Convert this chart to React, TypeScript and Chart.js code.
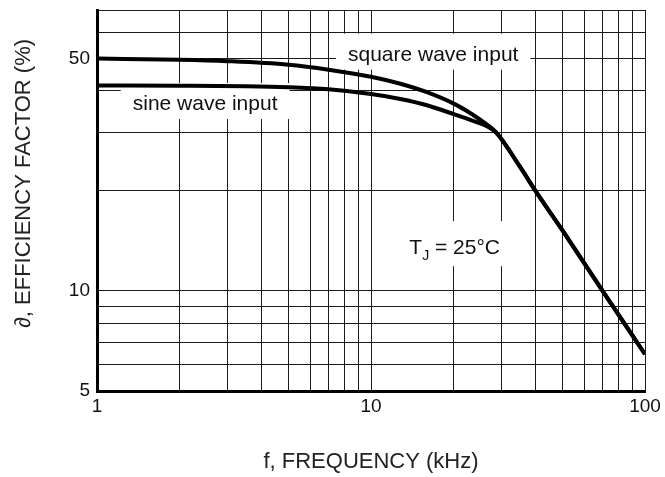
import React, { useEffect, useRef } from 'react';
import { Chart, registerables } from 'chart.js';

Chart.register(...registerables);

// ---- data ----
const squareFreq = [1, 2, 3, 5, 7, 10, 12.8, 16, 20.3, 23, 25.6, 28.8, 35, 40, 50, 70, 100];
const squareEff = [50, 49.6, 49.1, 47.9, 46.3, 44.1, 42.0, 39.6, 36.4, 34.3, 32.3, 29.8, 23.6, 19.9, 15.2, 10.0, 6.45];

const sineFreq = [1, 2, 3.5, 5, 7, 10, 12.8, 16, 20.3, 24, 27.2, 28.8, 35, 40, 50, 70, 100];
const sineEff = [41.5, 41.45, 41.3, 41.0, 40.4, 39.1, 37.8, 36.2, 33.9, 32.3, 30.9, 29.8, 23.6, 19.9, 15.2, 10.0, 6.45];

const xGridValues = [1, 2, 3, 4, 5, 6, 7, 8, 9, 10, 20, 30, 40, 50, 60, 70, 80, 90, 100];
const yGridValues = [5, 6, 7, 8, 9, 10, 20, 30, 40, 50, 60, 70];
const xTickLabels = [1, 10, 100];
const yTickLabels = [5, 10, 50];

const xTitle = 'f, FREQUENCY (kHz)';
const yTitle = '\u2202, EFFICIENCY FACTOR (%)';

// annotation anchors in data units (kHz, %)
const squareLabel = { text: 'square wave input', x: 8.24, y: 49.3 };
const sineLabel = { text: 'sine wave input', x: 1.35, y: 35.0 };
const tempLabel = { main: 'T', sub: 'J', rest: ' = 25\u00B0C', x: 13.8, y: 12.9 };

const FONT = '"Liberation Sans", Arial, Helvetica, sans-serif';

const annotationPlugin = {
  id: 'annotations',
  beforeDatasetsDraw(chart: any) {
    const ctx = chart.ctx;
    const xs = chart.scales.x;
    const ys = chart.scales.y;
    ctx.save();
    ctx.fillStyle = '#ffffff';
    ctx.font = `21px ${FONT}`;
    for (const l of [squareLabel, sineLabel]) {
      const px = xs.getPixelForValue(l.x);
      const py = ys.getPixelForValue(l.y);
      const w = ctx.measureText(l.text).width;
      ctx.fillRect(px - 12, py - 27, w + 24, 36);
    }
    {
      const px = xs.getPixelForValue(tempLabel.x);
      const py = ys.getPixelForValue(tempLabel.y);
      ctx.fillRect(px - 9, py - 33, 112, 45);
    }
    ctx.restore();
  },
  afterDatasetsDraw(chart: any) {
    const ctx = chart.ctx;
    const xs = chart.scales.x;
    const ys = chart.scales.y;
    ctx.save();
    ctx.fillStyle = '#111111';
    ctx.textBaseline = 'alphabetic';
    ctx.textAlign = 'left';
    ctx.font = `21px ${FONT}`;
    for (const l of [squareLabel, sineLabel]) {
      ctx.fillText(l.text, xs.getPixelForValue(l.x), ys.getPixelForValue(l.y));
    }
    let px = xs.getPixelForValue(tempLabel.x);
    const py = ys.getPixelForValue(tempLabel.y);
    ctx.fillText(tempLabel.main, px, py);
    px += ctx.measureText(tempLabel.main).width;
    ctx.font = `14px ${FONT}`;
    ctx.fillText(tempLabel.sub, px, py + 6);
    px += ctx.measureText(tempLabel.sub).width;
    ctx.font = `21px ${FONT}`;
    ctx.fillText(tempLabel.rest, px, py);

    // y-axis title (rotated), placed beside the axis
    const area = chart.chartArea;
    ctx.save();
    ctx.translate(24, (area.top + area.bottom) / 2 - 17);
    ctx.rotate(-Math.PI / 2);
    ctx.textAlign = 'center';
    ctx.textBaseline = 'middle';
    ctx.fillStyle = '#222222';
    ctx.font = `22px ${FONT}`;
    ctx.fillText(yTitle, 0, 0);
    ctx.restore();
    ctx.restore();
  },
};

export default function App() {
  const ref = useRef<HTMLCanvasElement | null>(null);

  useEffect(() => {
    if (!ref.current) return;
    const chart = new Chart(ref.current, {
      type: 'scatter',
      data: {
        datasets: [
          {
            label: 'square wave input',
            data: squareFreq.map((f, i) => ({ x: f, y: squareEff[i] })),
            showLine: true,
            borderColor: '#000000',
            borderWidth: 4,
            pointRadius: 0,
            cubicInterpolationMode: 'monotone',
          },
          {
            label: 'sine wave input',
            data: sineFreq.map((f, i) => ({ x: f, y: sineEff[i] })),
            showLine: true,
            borderColor: '#000000',
            borderWidth: 4,
            pointRadius: 0,
            cubicInterpolationMode: 'monotone',
          },
        ],
      },
      options: {
        animation: false,
        responsive: false,
        maintainAspectRatio: false,
        devicePixelRatio: 1,
        layout: { padding: { left: 0, top: 10, right: 20, bottom: 0 } },
        plugins: { legend: { display: false }, tooltip: { enabled: false } },
        scales: {
          x: {
            type: 'logarithmic',
            min: 1,
            max: 100,
            afterBuildTicks: (scale: any) => {
              scale.ticks = xGridValues.map((v) => ({ value: v }));
            },
            afterFit: (scale: any) => {
              scale.height = 86;
              scale.paddingLeft = 0;
              scale.paddingRight = 0;
            },
            grid: { color: '#1a1a1a', lineWidth: 1, drawTicks: false },
            border: { display: true, color: '#000000', width: 3 },
            ticks: {
              autoSkip: false,
              maxRotation: 0,
              padding: 4,
              color: '#111111',
              font: { family: FONT, size: 19 },
              callback: (v: any) => (xTickLabels.includes(Number(v)) ? String(v) : ''),
            },
            title: {
              display: true,
              text: xTitle,
              color: '#222222',
              font: { family: FONT, size: 22 },
              padding: { top: 0, bottom: 2 },
            },
          },
          y: {
            type: 'logarithmic',
            min: 5,
            max: 70,
            afterBuildTicks: (scale: any) => {
              scale.ticks = yGridValues.map((v) => ({ value: v }));
            },
            afterFit: (scale: any) => {
              scale.width = 97;
              scale.paddingTop = 0;
              scale.paddingBottom = 0;
            },
            grid: { color: '#1a1a1a', lineWidth: 1, drawTicks: false },
            border: { display: true, color: '#000000', width: 3 },
            ticks: {
              autoSkip: false,
              padding: 7,
              color: '#111111',
              font: { family: FONT, size: 19 },
              callback: (v: any) => (yTickLabels.includes(Number(v)) ? String(v) : ''),
            },
            title: { display: false },
          },
        },
      },
      plugins: [annotationPlugin],
    } as any);
    return () => chart.destroy();
  }, []);

  return (
    <div style={{ position: 'absolute', left: 0, top: 0, width: 665, height: 477, background: '#ffffff' }}>
      <canvas ref={ref} width={665} height={477} style={{ display: 'block' }} />
    </div>
  );
}
